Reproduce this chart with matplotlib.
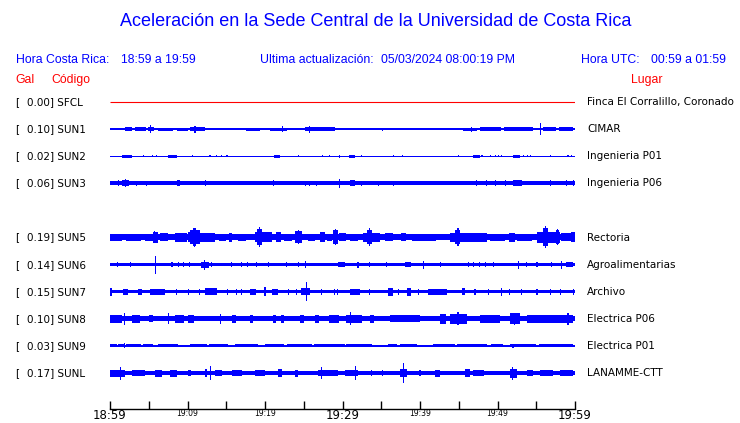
import numpy as np
import matplotlib
matplotlib.use("Agg")
import matplotlib.pyplot as plt
from matplotlib.transforms import blended_transform_factory

# ---------------- data ----------------
STATIONS = ["SFCL", "SUN1", "SUN2", "SUN3", "SUN5", "SUN6", "SUN7", "SUN8", "SUN9", "SUNL"]
ROWS = [0, 1, 2, 3, 5, 6, 7, 8, 9, 10]          # SUN4 slot is empty
GAL = [0.00, 0.10, 0.02, 0.06, 0.19, 0.14, 0.15, 0.10, 0.03, 0.17]
LUGAR = ["Finca El Corralillo, Coronado", "CIMAR", "Ingenieria P01", "Ingenieria P06",
         "Rectoria", "Agroalimentarias", "Archivo", "Electrica P06", "Electrica P01",
         "LANAMME-CTT"]

TICK_MIN = list(range(0, 61, 5))                 # minutes after 18:59
TICK_LABELS = ["18:59", "", "19:09", "", "19:19", "", "19:29", "", "19:39", "", "19:49", "", "19:59"]
MAJOR_LABELS = ["18:59", "19:29", "19:59"]

# trace amplitudes (half-height, display units)
BASE = [0.5, 0.85, 0.6, 1.8, 3.0, 1.7, 1.5, 2.5, 0.7, 1.8]

# bursts: (start_min, end_min, half-amplitude)
SFCL_BURSTS = []
SUN1_BURSTS = [(1.9, 2.8, 1.6), (3.2, 4.7, 1.6), (4.9, 5.7, 2.0), (6.2, 8.1, 1.5), (8.6, 10.1, 1.5),
               (10.3, 12.3, 2.0), (12.9, 13.6, 1.4), (14.0, 15.9, 1.4), (17.6, 19.4, 1.5),
               (20.6, 22.8, 1.5), (23.5, 24.6, 1.4), (25.2, 29.0, 1.7), (30.1, 30.8, 1.2),
               (31.3, 32.0, 1.2), (43.0, 44.3, 1.2), (45.6, 47.3, 1.5), (47.7, 50.5, 1.6),
               (50.9, 54.6, 1.6), (55.9, 57.5, 1.6), (57.9, 59.8, 1.6)]
SUN2_BURSTS = [(1.5, 2.8, 1.5), (7.5, 8.6, 1.5), (21.1, 21.9, 1.5), (30.8, 31.6, 1.5),
               (46.9, 47.7, 1.5), (52.0, 52.9, 1.5)]
SUN3_BURSTS = [(1.6, 2.4, 3.0), (8.6, 9.0, 3.0), (31.0, 31.6, 3.0), (52.0, 53.1, 3.0)]
SUN5_BURSTS = [(0.0, 1.5, 3.6), (2.0, 4.0, 3.8), (4.5, 5.5, 3.6), (5.6, 6.2, 5.5), (6.5, 7.5, 4.0),
               (8.4, 9.9, 4.5), (10.0, 10.3, 5.0), (10.3, 11.6, 7.0), (10.7, 11.1, 9.0),
               (11.6, 12.2, 4.5), (12.3, 13.5, 4.2), (14.0, 15.0, 3.8), (15.3, 15.8, 4.5),
               (16.5, 17.5, 3.6), (18.7, 20.9, 5.0), (19.0, 19.6, 8.0), (21.4, 22.0, 5.0),
               (22.5, 23.5, 3.8), (23.9, 24.8, 6.0), (25.5, 26.5, 3.8), (27.1, 27.7, 5.0),
               (28.0, 28.7, 3.8), (28.8, 29.4, 7.0), (29.5, 30.5, 4.0), (31.0, 32.0, 3.8),
               (32.7, 34.8, 4.8), (33.1, 33.8, 7.0), (35.5, 36.5, 4.0), (37.5, 38.2, 4.0),
               (39.0, 42.0, 3.6), (43.9, 48.6, 4.8), (44.5, 45.2, 7.0), (49.0, 51.0, 3.8),
               (51.5, 52.2, 4.2), (52.5, 54.5, 3.8), (55.1, 58.1, 5.5), (55.9, 56.5, 9.0),
               (57.5, 57.9, 7.0), (58.2, 59.5, 4.0), (59.5, 60.0, 5.0)]
SUN6_BURSTS = [(11.8, 12.8, 3.0), (29.4, 30.3, 2.3), (38.1, 38.9, 2.3), (58.9, 59.8, 2.3)]
SUN7_BURSTS = [(0.0, 0.3, 4.0), (1.7, 2.3, 3.0), (3.6, 4.1, 3.0), (5.2, 7.1, 3.0), (12.3, 13.8, 3.5),
               (18.1, 18.9, 3.0), (20.9, 21.7, 3.0), (24.7, 25.8, 3.5), (31.0, 32.3, 3.0),
               (35.9, 36.5, 4.0), (38.3, 38.9, 4.0), (41.0, 43.5, 3.0), (45.4, 45.8, 3.5)]
SUN8_BURSTS = [(0.0, 1.5, 3.8), (2.8, 3.9, 3.8), (5.0, 5.5, 3.5), (8.4, 9.5, 3.8), (10.0, 10.8, 3.8),
               (15.8, 16.3, 4.0), (18.0, 18.4, 4.0), (21.0, 21.4, 4.0), (22.0, 22.5, 3.8),
               (24.5, 25.0, 3.8), (26.5, 27.0, 3.8), (28.2, 29.5, 3.8), (30.5, 32.5, 4.0),
               (33.5, 34.0, 3.8), (36.1, 40.0, 3.5), (42.6, 43.4, 5.0), (43.9, 46.0, 5.0),
               (47.7, 50.3, 4.2), (51.6, 52.9, 5.5), (53.8, 59.8, 4.0)]
SUN9_BURSTS = [(0.0, 0.9, 1.6), (1.0, 1.8, 1.6), (2.0, 4.0, 1.6), (4.2, 5.6, 1.6), (6.2, 8.8, 1.6),
               (10.3, 12.5, 1.6), (12.8, 15.2, 1.6), (16.1, 19.1, 1.6), (20.0, 22.5, 1.6),
               (22.8, 26.0, 1.6), (26.3, 30.3, 1.6), (30.4, 33.8, 1.6), (35.9, 37.0, 1.6),
               (37.4, 39.6, 1.6), (41.7, 44.5, 1.6), (44.8, 48.6, 1.6), (49.2, 50.7, 1.6),
               (51.6, 55.0, 1.6), (55.3, 59.8, 1.6)]
SUNL_BURSTS = [(0.0, 1.9, 3.5), (2.8, 4.5, 3.0), (5.8, 6.7, 3.5), (7.7, 8.6, 3.5), (10.1, 10.5, 3.0),
               (12.3, 12.5, 4.0), (13.5, 14.4, 3.0), (15.7, 17.0, 3.0), (18.7, 20.0, 3.0),
               (21.7, 22.2, 4.0), (23.9, 24.3, 3.5), (26.8, 29.4, 3.0), (30.3, 32.0, 3.0),
               (37.4, 38.3, 4.0), (41.9, 42.6, 3.5), (45.8, 46.5, 4.0), (46.9, 48.2, 3.0),
               (51.6, 52.5, 4.5), (53.8, 54.6, 3.0), (55.5, 57.2, 3.0), (58.1, 59.8, 3.0)]

# spikes: (minute, half-amplitude)
SFCL_SPIKES = []
SUN1_SPIKES = [(5.25, 3.7), (10.97, 3.5), (16.5, 1.3), (22.3, 3.0), (25.8, 3.5), (33.5, 1.3),
               (35.2, 1.5), (36.8, 1.3), (38.7, 1.3), (41.5, 1.3), (42.3, 1.3), (46.7, 2.5),
               (55.5, 6.0)]
SUN2_SPIKES = [(4.3, 1.0), (5.5, 1.0), (6.0, 1.0), (10.6, 1.0), (12.9, 1.0), (13.8, 1.0), (14.4, 1.0),
               (15.1, 1.0), (24.3, 1.0), (27.4, 1.0), (28.3, 1.0), (29.6, 1.5), (32.5, 1.0),
               (36.6, 1.0), (37.8, 1.0), (45.0, 1.0), (48.0, 1.2), (49.1, 1.0), (49.7, 1.0),
               (50.1, 1.0), (50.5, 1.0), (53.4, 1.2), (53.9, 1.2), (54.3, 1.2), (56.8, 1.0),
               (59.1, 1.0), (59.6, 1.0)]
SUN3_SPIKES = [(1.1, 2.8), (2.0, 3.8), (3.4, 2.5), (4.7, 2.5), (12.3, 3.0), (21.1, 3.0), (25.2, 2.5),
               (25.8, 2.5), (26.7, 2.5), (29.6, 4.5), (32.5, 2.5), (34.6, 2.5), (36.6, 2.5),
               (47.3, 2.8), (48.6, 2.8), (49.7, 2.8), (51.0, 2.8), (56.8, 2.8), (58.9, 2.8),
               (59.8, 2.8)]
SUN5_SPIKES = [(5.8, 6.0), (10.9, 9.5), (19.3, 10.0), (24.3, 7.0), (29.1, 8.0), (33.5, 9.0),
               (44.9, 9.0), (56.2, 11.0), (57.7, 8.0)]
SUN6_SPIKES = [(1.0, 2.3), (2.6, 2.3), (5.9, 9.0), (8.0, 2.5), (8.8, 2.5), (9.5, 2.5), (10.3, 2.5),
               (12.2, 5.0), (13.1, 2.5), (15.7, 2.5), (17.0, 2.5), (17.8, 2.5), (18.9, 2.5),
               (20.4, 2.5), (22.8, 2.5), (24.3, 2.5), (25.2, 3.5), (32.0, 3.0), (33.5, 2.5),
               (35.7, 2.5), (40.4, 4.0), (42.6, 2.5), (46.2, 2.5), (46.9, 2.5), (47.7, 2.5),
               (48.4, 2.5), (49.5, 2.5), (52.7, 4.0), (53.8, 2.5), (55.1, 2.5), (57.0, 2.5),
               (58.3, 4.0)]
SUN7_SPIKES = [(8.6, 3.0), (10.1, 3.0), (11.6, 3.0), (15.2, 3.0), (16.3, 3.0), (17.0, 3.0),
               (20.0, 4.5), (23.0, 3.0), (24.1, 3.0), (25.4, 9.5), (27.3, 3.0), (29.0, 3.0),
               (29.4, 3.0), (33.5, 3.0), (37.2, 3.0), (39.8, 3.0), (47.1, 3.0), (48.8, 3.0),
               (50.5, 4.0), (51.6, 3.0), (53.1, 3.0), (55.1, 3.0), (56.8, 3.0), (58.1, 3.0),
               (59.8, 3.0)]
SUN8_SPIKES = [(1.85, 6.0), (7.5, 5.5), (14.2, 5.0), (31.0, 6.5), (44.9, 6.5), (52.2, 6.0),
               (59.1, 6.0)]
SUN9_SPIKES = [(1.85, 2.5), (52.0, 2.3)]
SUNL_SPIKES = [(1.4, 6.5), (12.95, 7.0), (27.3, 6.0), (31.7, 7.0), (33.8, 3.0), (35.2, 3.0),
               (37.85, 10.0), (40.0, 3.0), (51.9, 6.5)]

BURSTS = [SFCL_BURSTS, SUN1_BURSTS, SUN2_BURSTS, SUN3_BURSTS, SUN5_BURSTS, SUN6_BURSTS,
          SUN7_BURSTS, SUN8_BURSTS, SUN9_BURSTS, SUNL_BURSTS]
SPIKES = [SFCL_SPIKES, SUN1_SPIKES, SUN2_SPIKES, SUN3_SPIKES, SUN5_SPIKES, SUN6_SPIKES,
          SUN7_SPIKES, SUN8_SPIKES, SUN9_SPIKES, SUNL_SPIKES]

# ---------------- figure ----------------
W, H = 740, 423
fig = plt.figure(figsize=(W / 100, H / 100), dpi=100)
fig.patch.set_facecolor("white")

PITCH = 27.1  # px between rows
AX_L, AX_R, AX_T, AX_B = 110, 575, 88, 409
ax = fig.add_axes([AX_L / W, 1 - AX_B / H, (AX_R - AX_L) / W, (AX_B - AX_T) / H])
ax.set_xlim(0, 60)
y_top = (AX_T - 102) / PITCH
y_bot = (AX_B - 102) / PITCH
ax.set_ylim(y_bot, y_top)
amp = 1.0 / PITCH

BLUE = "#0000ff"
RED = "#ff0000"
SPW = 0.14  # spike width (minutes)

for i, row in enumerate(ROWS):
    if STATIONS[i] == "SFCL":
        ax.plot([0, 60], [row, row], color=RED, lw=0.8, solid_capstyle="butt")
        continue
    b = BASE[i] * amp
    ax.fill_between([0, 60], row - b, row + b, color=BLUE, lw=0, antialiased=False)
    for (s, e, h) in BURSTS[i]:
        ax.fill_between([s, e], row - h * amp, row + h * amp, color=BLUE, lw=0, antialiased=False)
    for (t, h) in SPIKES[i]:
        ax.fill_between([t - SPW / 2, t + SPW / 2], row - h * amp, row + h * amp,
                        color=BLUE, lw=0, antialiased=False)

for s in ["top", "left", "right"]:
    ax.spines[s].set_visible(False)
ax.spines["bottom"].set_linewidth(1.0)
ax.set_yticks([])
ax.set_xticks(TICK_MIN)
ax.set_xticklabels(TICK_LABELS)
ax.tick_params(axis="x", direction="in", length=6, width=1.0, pad=0.3)
for lab in ax.get_xticklabels():
    if lab.get_text() in MAJOR_LABELS:
        lab.set_fontsize(8.5)
    else:
        lab.set_fontsize(5.5)
    lab.set_family("DejaVu Sans")

# station labels
tr = blended_transform_factory(fig.transFigure, ax.transData)
for i, row in enumerate(ROWS):
    ax.text(15 / W, row, "[", transform=tr, fontsize=7.45, family="DejaVu Sans",
            va="center", ha="left", color="black")
    ax.text(27.3 / W, row, f"{GAL[i]:.2f}] {STATIONS[i]}", transform=tr, fontsize=7.45,
            family="DejaVu Sans", va="center", ha="left", color="black")
    ax.text(587 / W, row, LUGAR[i], transform=tr, fontsize=7.45, family="DejaVu Sans",
            va="center", ha="left", color="black")

def ftext(x, y, s, **kw):
    fig.text(x / W, 1 - y / H, s, **kw)

SANS = "Liberation Sans"
HFS = 8.8
ftext(375.5, 22, "Aceleración en la Sede Central de la Universidad de Costa Rica",
      ha="center", va="center", fontsize=13.0, color=BLUE, family=SANS)
ftext(15.6, 60, "Hora Costa Rica:", ha="left", va="center", fontsize=HFS, color=BLUE, family=SANS)
ftext(121, 60, "18:59 a 19:59", ha="left", va="center", fontsize=HFS, color=BLUE, family=SANS)
ftext(260, 60, "Ultima actualización:", ha="left", va="center", fontsize=HFS, color=BLUE, family=SANS)
ftext(380.7, 60, "05/03/2024 08:00:19 PM", ha="left", va="center", fontsize=HFS, color=BLUE, family=SANS)
ftext(581, 60, "Hora UTC:", ha="left", va="center", fontsize=HFS, color=BLUE, family=SANS)
ftext(651, 60, "00:59 a 01:59", ha="left", va="center", fontsize=HFS, color=BLUE, family=SANS)
ftext(15.6, 80, "Gal", ha="left", va="center", fontsize=HFS, color=RED, family=SANS)
ftext(51, 80, "Código", ha="left", va="center", fontsize=HFS, color=RED, family=SANS)
ftext(662.7, 80, "Lugar", ha="right", va="center", fontsize=HFS, color=RED, family=SANS)

fig.savefig("out.png", dpi=100)
